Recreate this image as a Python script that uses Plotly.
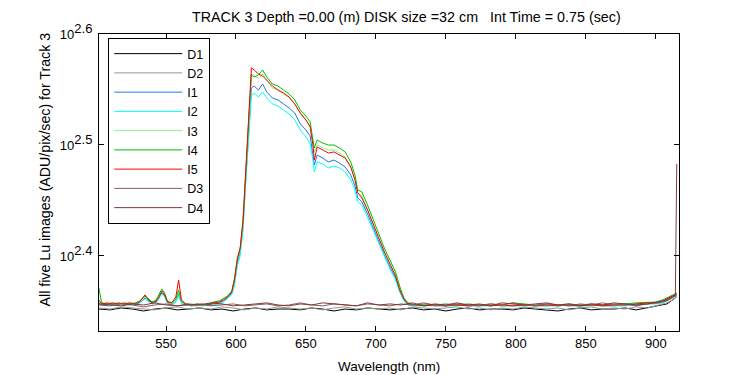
import plotly.graph_objects as go

# ---------------- data ----------------
wl_i = [502, 504, 508, 512, 516, 520, 524, 528, 531, 533,
        535, 537, 540, 543, 545, 547, 549, 551, 554, 557,
        559, 561, 564, 568, 572, 576, 580, 584, 588, 591,
        594, 597, 599, 601, 603, 605, 607, 609, 611, 613,
        616, 619, 622, 626, 630, 634, 638, 642, 646, 650,
        653, 655, 656, 658, 662, 666, 670, 674, 678, 682,
        685, 687, 690, 694, 698, 702, 706, 710, 714, 717,
        720, 723, 728, 735, 742, 750, 758, 766, 774, 782,
        790, 798, 806, 814, 822, 830, 838, 846, 854, 862,
        870, 878, 886, 894, 900, 905, 909, 912, 914, 915]

I1 = [227.9, 226.9, 227.4, 226.9, 227.4, 226.9, 227.4, 226.9, 227.9, 229.3,
      230.2, 229.3, 227.4, 228.3, 230.2, 232.6, 231.2, 227.9, 227.4, 228.8,
      232.2, 227.9, 226.9, 226.5, 226.9, 226.5, 226.9, 227.4, 227.9, 228.8,
      230.2, 232.6, 238.0, 248.1, 253.3, 267.3, 296.5, 326.2, 355.9, 357.4,
      354.4, 358.9, 353.0, 348.6, 347.2, 344.3, 341.5, 337.9, 330.3, 326.2,
      322.2, 309.7, 303.4, 309.7, 307.8, 305.3, 306.5, 304.6, 302.1, 297.2,
      290.5, 283.3, 281.0, 274.1, 266.2, 258.6, 251.7, 245.5, 240.0, 233.6,
      229.3, 226.9, 226.5, 226.9, 226.5, 226.5, 226.9, 226.5, 226.5, 226.9,
      226.5, 226.5, 226.9, 226.5, 226.5, 226.9, 226.5, 226.5, 226.9, 226.5,
      226.5, 226.9, 226.9, 227.4, 227.9, 228.3, 229.8, 230.7, 231.2, 231.7]

I2 = [227.4, 226.9, 226.9, 227.4, 226.9, 227.4, 226.9, 227.4, 227.9, 228.8,
      229.8, 228.8, 227.4, 227.9, 229.8, 232.2, 230.7, 227.9, 226.9, 228.3,
      231.2, 227.9, 226.9, 226.5, 226.5, 226.9, 226.5, 226.9, 227.4, 228.3,
      229.8, 231.7, 236.5, 246.0, 251.2, 265.1, 292.9, 320.9, 350.1, 352.3,
      349.3, 353.0, 348.6, 344.3, 342.9, 340.0, 337.2, 333.1, 326.2, 321.5,
      316.9, 306.5, 299.0, 305.3, 304.0, 301.5, 302.7, 301.5, 299.0, 294.1,
      288.1, 281.0, 279.2, 272.3, 265.1, 257.5, 250.7, 244.5, 239.0, 233.1,
      228.8, 226.9, 226.5, 226.5, 226.9, 226.5, 226.5, 226.9, 226.5, 226.5,
      226.9, 226.5, 226.5, 226.9, 226.5, 226.5, 226.9, 226.5, 226.5, 226.9,
      226.5, 226.5, 226.9, 227.4, 227.4, 227.9, 229.3, 230.2, 230.7, 231.2]

I3 = [228.3, 227.4, 227.4, 227.9, 226.9, 227.4, 227.9, 227.4, 228.3, 229.8,
      230.7, 229.8, 227.9, 228.8, 231.2, 233.6, 232.2, 228.3, 227.4, 229.3,
      233.1, 228.3, 227.4, 226.9, 226.9, 226.9, 227.4, 227.9, 228.3, 229.3,
      230.7, 233.1, 239.0, 249.1, 254.3, 269.0, 299.0, 330.3, 363.4, 364.9,
      363.4, 366.4, 361.9, 355.9, 354.4, 351.5, 348.6, 344.3, 337.2, 333.1,
      328.9, 316.9, 311.7, 316.2, 314.3, 313.0, 313.0, 311.0, 308.5, 302.7,
      294.7, 286.3, 284.5, 276.9, 268.4, 260.8, 253.8, 247.6, 241.5, 234.6,
      229.8, 227.4, 226.9, 226.9, 226.5, 226.9, 226.9, 226.5, 226.9, 226.9,
      226.5, 226.9, 226.9, 226.5, 226.9, 226.5, 226.9, 226.9, 226.5, 226.9,
      226.9, 226.9, 227.4, 227.9, 227.9, 228.8, 230.2, 231.2, 231.7, 232.2]

I4 = [235.1, 227.9, 227.4, 227.9, 227.4, 227.9, 227.4, 227.9, 228.8, 230.2,
      231.2, 230.2, 228.3, 229.3, 231.7, 234.6, 232.6, 228.8, 227.9, 229.8,
      234.1, 228.8, 227.4, 226.9, 227.4, 226.9, 227.4, 228.3, 228.8, 229.8,
      231.2, 233.6, 240.0, 250.2, 255.4, 270.7, 300.3, 331.7, 366.4, 364.1,
      365.7, 369.5, 364.1, 358.9, 357.4, 354.4, 351.5, 347.2, 340.0, 335.8,
      331.7, 319.5, 314.3, 319.5, 317.5, 316.2, 316.2, 314.3, 311.7, 305.3,
      297.2, 288.1, 286.9, 279.2, 270.7, 262.4, 255.4, 249.1, 243.0, 236.0,
      230.2, 227.9, 226.9, 227.4, 226.9, 227.4, 226.9, 227.4, 226.9, 227.4,
      226.9, 227.9, 227.4, 226.9, 227.4, 226.9, 227.4, 226.9, 227.4, 226.9,
      227.4, 227.4, 227.9, 228.3, 228.3, 229.3, 230.7, 231.7, 232.2, 232.6]

I5 = [229.3, 227.4, 227.9, 227.4, 227.9, 227.4, 227.9, 227.4, 228.3, 229.8,
      231.7, 229.8, 227.9, 228.8, 230.7, 233.6, 231.7, 228.3, 227.9, 230.7,
      239.0, 229.3, 227.4, 226.9, 226.9, 227.4, 226.9, 227.9, 228.3, 229.3,
      230.7, 233.1, 239.5, 249.6, 255.4, 269.5, 301.5, 334.4, 371.0, 369.5,
      366.4, 364.9, 361.9, 357.4, 354.4, 352.3, 349.3, 344.3, 337.9, 333.1,
      328.3, 316.2, 306.5, 314.9, 313.0, 311.0, 311.7, 309.7, 307.8, 302.1,
      294.1, 286.3, 283.3, 276.3, 267.9, 260.8, 253.3, 247.1, 241.0, 234.1,
      229.8, 227.4, 226.9, 226.5, 226.9, 226.5, 226.9, 226.5, 226.9, 226.5,
      226.9, 226.5, 226.9, 226.5, 226.9, 226.5, 226.9, 226.5, 226.9, 226.5,
      226.9, 226.9, 227.4, 227.9, 227.9, 228.8, 230.2, 231.2, 231.7, 232.2]

wl_d = [502, 510, 518, 526, 534, 542, 550, 558, 566, 574,
        582, 590, 598, 606, 614, 622, 630, 638, 646, 654,
        662, 670, 678, 686, 694, 702, 710, 718, 726, 734,
        742, 750, 758, 766, 774, 782, 790, 798, 806, 814,
        822, 830, 838, 846, 854, 862, 870, 878, 886, 894,
        902, 908, 912, 914, 915]

D1 = [225.0, 224.6, 225.5, 225.0, 224.1, 225.0, 225.5, 224.6, 225.0, 225.5,
      224.6, 225.0, 224.1, 225.0, 225.5, 224.6, 225.0, 225.0, 224.6, 225.5,
      225.0, 224.1, 225.0, 224.6, 225.5, 225.0, 224.6, 225.0, 225.5, 224.6,
      225.0, 224.1, 225.0, 225.5, 224.6, 225.0, 225.0, 224.6, 225.5, 225.0,
      224.6, 224.1, 225.0, 225.5, 224.6, 225.0, 225.0, 225.5, 224.6, 225.5,
      226.5, 227.4, 229.3, 230.2, 231.2]

D2 = [225.5, 225.0, 226.0, 225.5, 225.0, 224.6, 225.5, 226.0, 225.0, 225.5,
      225.0, 226.0, 225.5, 224.6, 225.5, 225.0, 226.0, 225.5, 225.0, 225.5,
      224.6, 225.5, 226.0, 225.0, 225.5, 225.0, 225.5, 224.6, 226.0, 225.5,
      225.0, 225.5, 226.0, 225.0, 225.5, 224.6, 225.5, 225.0, 226.0, 225.5,
      225.0, 225.5, 224.6, 225.5, 226.0, 225.0, 225.5, 225.0, 226.0, 225.5,
      226.9, 227.9, 229.3, 230.2, 231.2]

D3 = [226.9, 226.5, 227.4, 226.9, 226.0, 226.9, 227.4, 226.5, 226.9, 227.4,
      226.5, 226.9, 227.4, 226.5, 226.9, 227.4, 226.5, 226.9, 227.9, 226.9,
      226.5, 227.4, 226.9, 226.5, 227.4, 226.9, 226.5, 227.4, 226.9, 227.9,
      226.9, 226.5, 227.4, 226.9, 226.5, 227.4, 226.9, 227.9, 226.9, 226.5,
      227.4, 226.9, 226.5, 227.4, 226.9, 227.9, 226.9, 227.4, 226.5, 227.4,
      227.9, 228.8, 230.2, 231.2, 231.7]

D4 = [227.4, 226.9, 226.5, 227.4, 226.9, 227.9, 226.9, 226.5, 227.4, 226.9,
      227.9, 227.4, 226.5, 226.9, 227.4, 227.9, 226.9, 226.5, 227.4, 226.9,
      227.9, 227.4, 226.9, 226.5, 227.9, 226.9, 227.4, 226.9, 227.9, 226.5,
      227.4, 226.9, 227.9, 226.9, 227.4, 226.5, 227.9, 227.4, 226.9, 227.4,
      227.9, 226.9, 227.4, 226.5, 227.4, 226.9, 227.9, 227.4, 226.9, 227.4,
      228.3, 229.3, 230.7, 231.7, 304.0]

x_ticks = [550, 600, 650, 700, 750, 800, 850, 900]
y_tick_vals = [10 ** 2.4, 10 ** 2.5, 10 ** 2.6]
y_tick_text = ["10<sup><span style='font-size:13px'>2.4</span></sup>",
               "10<sup><span style='font-size:13px'>2.5</span></sup>",
               "10<sup><span style='font-size:13px'>2.6</span></sup>"]

title_text = "TRACK 3 Depth =0.00 (m) DISK size =32 cm   Int Time = 0.75 (sec)"
x_title = "Wavelength (nm)"
y_title = "All five Lu images (ADU/pix/sec) for Track 3"

# ---------------- figure ----------------
series = [
    ("D1", wl_d, D1, "#000000"),
    ("D2", wl_d, D2, "#969696"),
    ("I1", wl_i, I1, "#1f78e8"),
    ("I2", wl_i, I2, "#00ffff"),
    ("I3", wl_i, I3, "#88f088"),
    ("I4", wl_i, I4, "#00c000"),
    ("I5", wl_i, I5, "#ff0000"),
    ("D3", wl_d, D3, "#8c5a5a"),
    ("D4", wl_d, D4, "#7f3a3a"),
]

fig = go.Figure()
for name, xs, ys, col in series:
    fig.add_trace(go.Scatter(x=xs, y=ys, name=name, mode="lines",
                             line=dict(color=col, width=1)))

# the page body has an 8px default margin; margins below compensate for it
font = "Liberation Sans, Arial, sans-serif"
fig.update_layout(
    width=750, height=375,
    margin=dict(l=91, r=79, t=26, b=52, autoexpand=False),
    paper_bgcolor="white", plot_bgcolor="white",
    font=dict(family=font, size=13, color="black"),
    showlegend=True,
    legend=dict(x=0.016, y=0.9865, xanchor="left", yanchor="top",
                bgcolor="white", bordercolor="black", borderwidth=1,
                font=dict(size=12.5), itemwidth=68, tracegroupgap=0),
    xaxis=dict(range=[502.1, 916.6], tickvals=x_ticks,
               ticks="inside", ticklen=5, tickcolor="black",
               showline=True, linecolor="black", linewidth=1, mirror="ticks",
               showgrid=False, zeroline=False, automargin=False),
    yaxis=dict(type="log", range=[2.3324, 2.6],
               tickvals=y_tick_vals, ticktext=y_tick_text,
               ticks="inside", ticklen=5, tickcolor="black",
               showline=True, linecolor="black", linewidth=1, mirror="ticks",
               showgrid=False, zeroline=False, automargin=False,
               ticklabelstandoff=3),
    annotations=[
        dict(text=title_text, xref="paper", yref="paper",
             x=0.531, y=1.0865, xanchor="center", yanchor="top",
             borderpad=0, showarrow=False, font=dict(size=14.3)),
        dict(text=x_title, xref="paper", yref="paper",
             x=0.5, y=-0.118, xanchor="center", yanchor="middle",
             showarrow=False, font=dict(size=13.5)),
        dict(text=y_title, xref="paper", yref="paper",
             x=-0.0925, y=0.545, xanchor="center", yanchor="middle",
             textangle=-90, showarrow=False, font=dict(size=14.2)),
    ],
)

fig.write_html("out.html")
